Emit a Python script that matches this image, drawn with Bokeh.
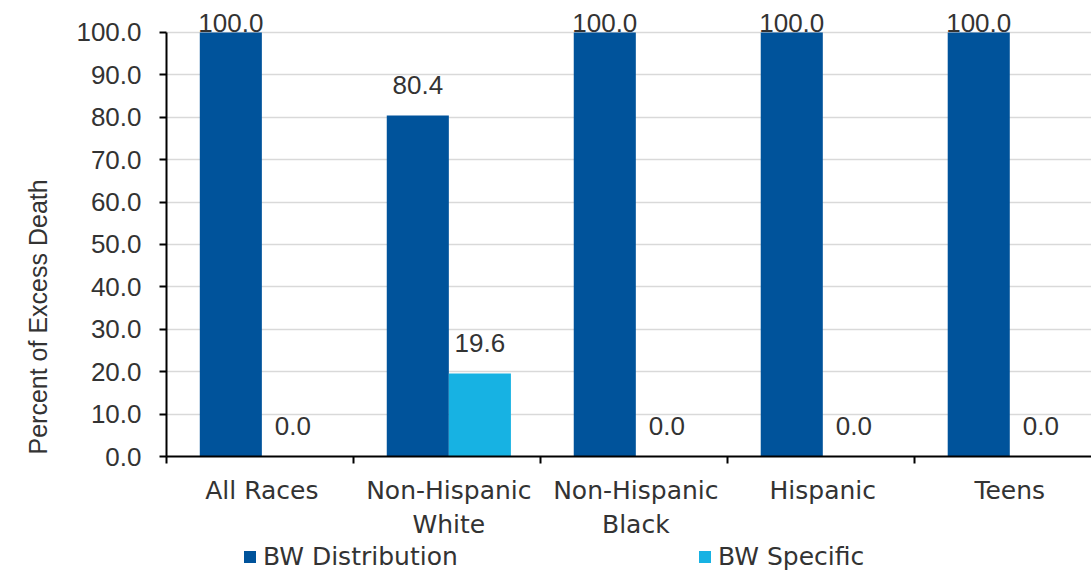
from bokeh.plotting import figure
from bokeh.layouts import column
from bokeh.models import (ColumnDataSource, FixedTicker, Range1d, LabelSet, Legend, LegendItem,
                          LinearAxis, CustomJSTickFormatter, Title)
from bokeh.core.properties import value
from bokeh.transform import dodge
from bokeh.embed import file_html
from bokeh.resources import INLINE

categories = ["All Races", "Non-Hispanic\nWhite", "Non-Hispanic\nBlack", "Hispanic", "Teens"]
series_names = ["BW Distribution", "BW Specific"]
bw_distribution = [100.0, 80.4, 100.0, 100.0, 100.0]
bw_specific = [0.0, 19.6, 0.0, 0.0, 0.0]
y_ticks = [0, 10, 20, 30, 40, 50, 60, 70, 80, 90, 100]

FONT = "Liberation Sans"
WIDE = "DejaVu Sans"
TXT = "#333333"
DARK = "#00539b"
LIGHT = "#17b2e3"

xc = [i + 0.51 for i in range(len(categories))]
src = ColumnDataSource(dict(
    x=xc,
    dist=bw_distribution,
    spec=bw_specific,
    dist_lab=[f"{v:.1f}" for v in bw_distribution],
    spec_lab=[f"{v:.1f}" for v in bw_specific],
    dist_y=[min(v + 5.0, 100) for v in bw_distribution],
    spec_y=[min(v + 5.0, 100) for v in bw_specific],
))

p = figure(width=1091, height=542, output_backend="svg", toolbar_location=None,
           x_range=Range1d(0, 4.947), y_range=Range1d(0, 107.53),
           min_border_left=166, min_border_top=0, min_border_right=0, min_border_bottom=85,
           outline_line_color=None, x_axis_location=None, y_axis_location=None)

r1 = p.vbar(x=dodge("x", -0.166, range=p.x_range), top="dist", width=0.332, source=src,
            fill_color=DARK, line_color=None)
r2 = p.vbar(x=dodge("x", 0.166, range=p.x_range), top="spec", width=0.332, source=src,
            fill_color=LIGHT, line_color=None)

for col, lab, off in (("dist_y", "dist_lab", -0.166), ("spec_y", "spec_lab", 0.166)):
    ls = LabelSet(x=dodge("x", off, range=p.x_range), y=col, text=lab, source=src,
                  text_align="center", text_baseline="alphabetic", text_font=value(FONT),
                  text_font_size=value("26px"), text_color=value(TXT))
    p.add_layout(ls)

# y axis
ya = LinearAxis(ticker=FixedTicker(ticks=y_ticks, minor_ticks=[]), bounds=(0, 100))
ya.formatter = CustomJSTickFormatter(code="return tick.toFixed(1);")
ya.axis_line_color = "black"
ya.axis_line_width = 2
ya.major_tick_line_color = "black"
ya.major_tick_line_width = 2
ya.major_tick_out = 7
ya.major_tick_in = 0
ya.minor_tick_line_color = None
ya.major_label_text_font = FONT
ya.major_label_text_font_size = "26px"
ya.major_label_text_color = TXT
ya.major_label_standoff = 18
p.add_layout(ya, "left")

ytitle = Title(text="Percent of Excess Death", align="left", offset=2, standoff=43,
               text_font=FONT, text_font_size="25px", text_font_style="normal",
               text_color=TXT)
p.add_layout(ytitle, "left")

# x axis
xa = LinearAxis(ticker=FixedTicker(ticks=xc, minor_ticks=[0, 1, 2, 3, 4, 5]))
xa.major_label_overrides = {x: c for x, c in zip(xc, categories)}
xa.axis_line_color = "black"
xa.axis_line_width = 2
xa.major_tick_line_color = None
xa.major_tick_out = 6
xa.minor_tick_line_color = "black"
xa.minor_tick_line_width = 2
xa.minor_tick_out = 7
xa.minor_tick_in = 0
xa.major_label_text_font = WIDE
xa.major_label_text_font_size = "25px"
xa.major_label_text_color = TXT
xa.major_label_standoff = 12
p.add_layout(xa, "below")

p.xgrid.grid_line_color = None
p.ygrid.ticker = FixedTicker(ticks=y_ticks[1:])
p.ygrid.grid_line_color = "#d9d9d9"
p.ygrid.grid_line_width = 1.5

# legend strip
lf = figure(width=1091, height=29, output_backend="svg", toolbar_location=None,
            x_range=Range1d(0, 1), y_range=Range1d(0, 1), min_border=0,
            outline_line_color=None, x_axis_location=None, y_axis_location=None)
lf.xgrid.visible = False
lf.ygrid.visible = False
d1 = lf.vbar(x=[-5], top=[0], width=0.1, fill_color=DARK, line_color=None)
d2 = lf.vbar(x=[-5], top=[0], width=0.1, fill_color=LIGHT, line_color=None)
legend = Legend(items=[LegendItem(label=series_names[0], renderers=[d1]),
                       LegendItem(label=series_names[1], renderers=[d2])],
                orientation="horizontal", location=(76, 0),
                glyph_width=15, glyph_height=15, label_standoff=6, spacing=0,
                label_width=434, label_text_font=WIDE, label_text_font_size="25px",
                label_text_color=TXT, border_line_color=None, background_fill_alpha=0,
                padding=0, margin=0)
lf.add_layout(legend, "center")

open("out.html", "w").write(file_html(column(p, lf, spacing=0), INLINE))
